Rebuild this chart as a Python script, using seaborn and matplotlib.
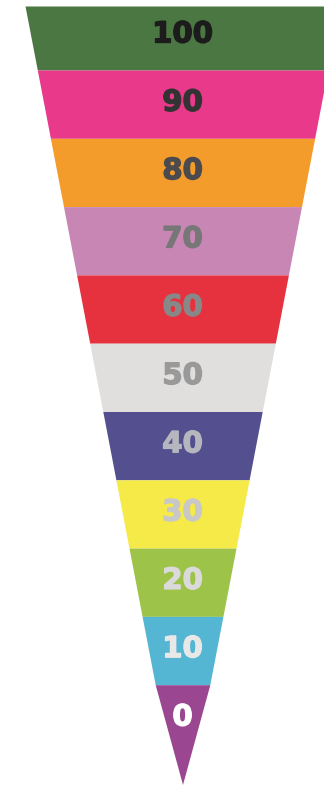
import matplotlib
matplotlib.use("Agg")
import matplotlib.pyplot as plt
import matplotlib.patheffects as pe
import seaborn as sns
import numpy as np

# ---- data ----
levels = [100, 90, 80, 70, 60, 50, 40, 30, 20, 10, 0]
band_colors = ["#4B7743", "#E8398A", "#F49C2B", "#C886B4", "#E5323E",
               "#E0DFDD", "#54508F", "#F5EA47", "#9EC349", "#55B6D3", "#9A4690"]
label_colors = ["#1C1C1C", "#333333", "#4A4A4F", "#777777", "#888888",
                "#999999", "#B6B6BE", "#C8C8C8", "#DADADA", "#E8E8E8", "#FFFFFF"]

sns.set_theme(style="white")
plt.rcParams['font.family'] = ['DejaVu Sans']

fig = plt.figure(figsize=(3.24, 7.85), dpi=100)
ax = fig.add_axes([0, 0, 1, 1])

# geometry (pixel-like x units, band units in y)
hw0 = 158.3               # half width at band-0 top boundary
n = len(levels)
step = 13.1
top_start = 0.063         # visible top of first band
apex = 11.46

for i, (lv, bc, tc) in enumerate(zip(levels, band_colors, label_colors)):
    if i == 0:
        ys = np.array([top_start, 1.0])
        hw = hw0 - step * ys
    elif i < n - 1:
        ys = np.array([i, i + 1.0])
        hw = hw0 - step * ys
    else:
        ys = np.array([i, apex])
        hw = np.array([hw0 - step * i, 0.0])
    ax.fill_betweenx(ys, -hw, hw, color=bc, linewidth=0)
    ax.text(0, i + 0.48, str(lv), ha="center", va="center",
            fontsize=21, fontweight="bold", color=tc,
            path_effects=[pe.withStroke(linewidth=1.0, foreground=tc)])

ax.set_xlim(-182.5, 324 - 182.5)
ax.set_ylim((785 - 1.7) / 68.3, -1.7 / 68.3)
ax.axis("off")

fig.savefig("out.png", dpi=100)
